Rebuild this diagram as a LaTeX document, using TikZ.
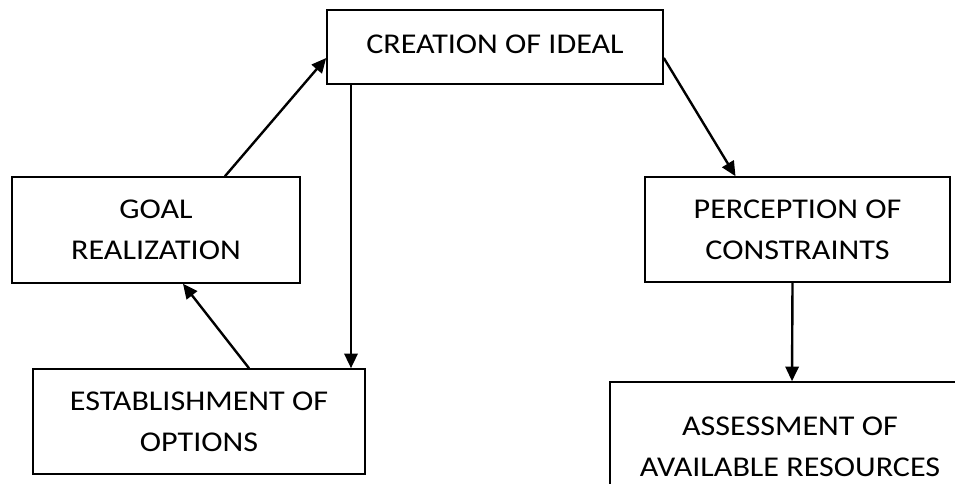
\documentclass[tikz,border=0pt]{standalone}
\usepackage{fontspec}
\setmainfont{Carlito}[FakeStretch=1.12]
\usetikzlibrary{arrows.meta,calc,positioning}

\begin{document}
\begin{tikzpicture}[x=0.75pt,y=-0.75pt,
    box/.style={draw,line width=1.2pt,align=center,inner sep=0pt,
      font=\fontsize{21.5}{31}\selectfont},
    arr/.style={line width=1.8pt,-{Triangle[length=11pt,width=10pt]}}]
  \useasboundingbox (0,0) rectangle (955,483);
  \clip (0,0) rectangle (955,483);
  \node[box,minimum width=252pt,minimum height=55.5pt] (creation) at (495,47) {\raisebox{3.5pt}{CREATION OF IDEAL}};
  \node[box,minimum width=216pt,minimum height=79.5pt] (goal) at (156,230) {GOAL\\REALIZATION};
  \node[box,minimum width=249pt,minimum height=78.75pt] (options) at (199,421.5) {ESTABLISHMENT OF\\OPTIONS};
  \node[box,minimum width=228.75pt,minimum height=78.75pt] (perception) at (797.5,229.5) {PERCEPTION OF\\CONSTRAINTS};
  \node[box,minimum width=270pt,minimum height=97.5pt] (assessment) at (790,447) {ASSESSMENT OF\\AVAILABLE RESOURCES};
  % connectors
  \draw[arr] ($(goal.north)+(69,0)$) -- ($(creation.west)+(0,11)$);
  \draw[arr] ($(creation.south)+(-144,0)$) -- ($(options.north)+(152,0)$);
  \draw[arr] ($(options.north)+(50,0)$) -- ($(goal.south)+(27,0)$);
  \draw[arr] ($(creation.east)+(0,11)$) -- ($(perception.north)+(-62,0)$);
  \draw[arr] ($(perception.south)+(-5,0)$) -- ($(assessment.north)+(2,0)$);
\end{tikzpicture}
\end{document}
